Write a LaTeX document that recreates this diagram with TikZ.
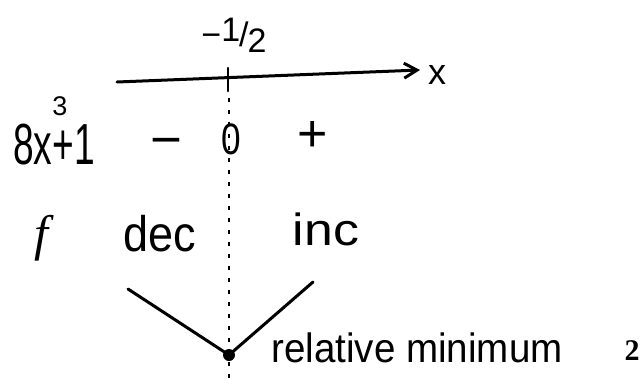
\documentclass[tikz,border=0pt]{standalone}
\usepackage{fontspec}
\usepackage{graphicx}
\setmainfont{Liberation Sans}
\newfontfamily\serifnum{Liberation Serif}
\usetikzlibrary{arrows.meta}
\newcommand\fsz[1]{\fontsize{#1}{#1}\selectfont}
\tikzset{
  hand/.style={line width=3pt, line cap=round, black},
  txt/.style={inner sep=0pt, outer sep=0pt},
}
\begin{document}
\begin{tikzpicture}[x=1pt,y=-1pt]
\useasboundingbox (0,0) rectangle (640,383);
% axis
\coordinate (ax0) at (117,82);
\coordinate (ax1) at (420,70);
\draw[hand, -{Straight Barb[length=13pt,width=15pt,line width=3pt]}] (ax0) -- (ax1);
\node[txt, font=\fsz{36}] (xl) at (437,75) {x};
% tick
\coordinate (tkt) at (228,68);
\coordinate (tkb) at (228,91);
\draw[hand, line width=2.6pt] (tkt) -- (tkb);
\node[txt, font=\fsz{34}] (half) at (234,35) {−\raisebox{5pt}{1}\kern-1pt/\kern-1pt\raisebox{-6pt}{2}};
% dotted vertical
\coordinate (vtop) at (229,98);
\coordinate (vbot) at (229,383);
\draw[line width=2.4pt, dash pattern=on 4pt off 8pt] (vtop) -- (vbot);
% sign row
\node[txt, font=\fsz{58}] (expr) at (54,145) {\scalebox{0.64}[1]{8x+1}};
\node[txt, font=\fsz{27}] (cube) at (60,106) {3};
\node[txt, font=\fsz{52}, anchor=base] (minus) at (166,157) {\scalebox{1.05}[1]{−}};
\node[txt, font=\fsz{44}] (zero) at (231,139) {\scalebox{0.8}[1]{0}};
\node[txt, font=\fsz{52}, anchor=base] (plus) at (313,151) {+};
% f row
\node[txt, font=\serifnum\itshape\fsz{50}] (f) at (41,238) {f};
\node[txt, font=\fsz{50}] (dec) at (160,234) {\scalebox{0.9}[1]{dec}};
\node[txt, font=\fsz{45}] (inc) at (326,229) {\scalebox{1.15}[1]{inc}};
% V
\coordinate (vl) at (128,289);
\coordinate (vr) at (313,282);
\node[circle, fill=black, inner sep=0pt, minimum size=12pt] (dot) at (229,355) {};
\draw[hand] (vl) -- (dot.center) -- (vr);
\node[txt, font=\fsz{41}] (rm) at (417,348) {\scalebox{0.94}[1]{relative minimum}};
\node[txt, font=\serifnum\bfseries\fsz{30}] (pg) at (632,351) {2};
\end{tikzpicture}
\end{document}
